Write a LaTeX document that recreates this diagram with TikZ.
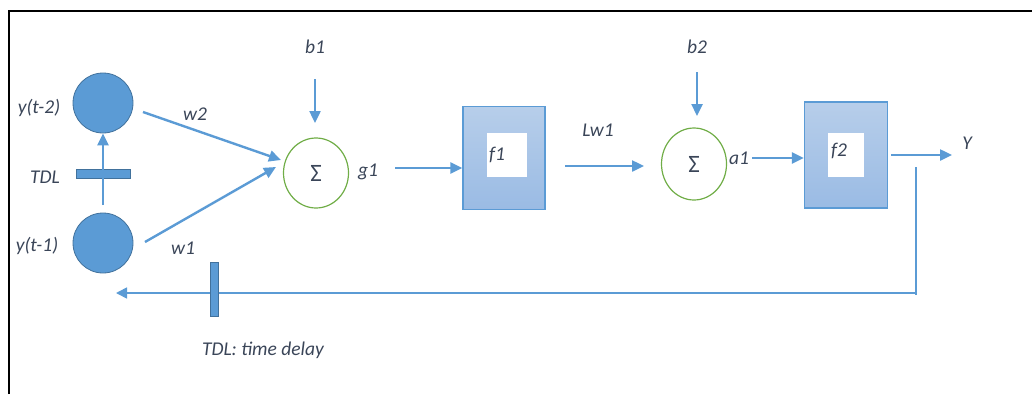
\documentclass[tikz,border=0pt]{standalone}
\usepackage{fontspec}
\setmainfont{Carlito}
\usetikzlibrary{arrows.meta,shapes.geometric}
\definecolor{accent}{HTML}{5B9BD5}
\definecolor{accentdark}{HTML}{41719C}
\definecolor{boxtop}{HTML}{B7CEEA}
\definecolor{boxbot}{HTML}{9ABBE4}
\definecolor{sumgreen}{HTML}{70AD47}
\definecolor{labelcol}{HTML}{3A4558}
\tikzset{
  conn/.style={draw=accent, line width=2.4pt, -{Triangle[length=12pt,width=11pt]}},
  feed/.style={draw=accent, line width=1.6pt},
  lbl/.style={text=labelcol, font=\fontsize{19.5}{22}\selectfont\itshape, inner sep=0pt},
  neuron/.style={circle, fill=accent, draw=accentdark, line width=0.8pt, minimum size=60pt, inner sep=0pt},
  summer/.style={ellipse, draw=sumgreen, line width=1.2pt, minimum width=65pt, minimum height=70pt,
                 inner sep=0pt, font=\fontsize{25}{28}\selectfont, text=labelcol},
  actbox/.style={draw=accent, line width=1.4pt, top color=boxtop, bottom color=boxbot,
                 minimum width=82pt, minimum height=103pt, inner sep=0pt},
  inner/.style={fill=white, minimum width=40pt, minimum height=44pt, inner sep=0pt},
  delay/.style={fill=accent, draw=accentdark, line width=0.6pt, inner sep=0pt},
}
\begin{document}
\begin{tikzpicture}[x=1pt,y=-1pt]
\useasboundingbox (0,0) rectangle (1032,394);
% frame edges
\draw[line width=2pt] (9,394) -- (9,11) -- (1032,11);

% delayed outputs
\node[neuron] (y2) at (103,103) {};
\node[neuron] (y1) at (103,243) {};
\node[lbl] (ly2) at (39,108) {y(t-2)};
\node[lbl] (ly1) at (37,246) {y(t-1)};
\node[delay, minimum width=54pt, minimum height=9pt] (tdl1) at (103,174) {};
\node[lbl] (ltdl) at (45,177) {TDL};
\coordinate (up0) at (103,205);
\draw[conn] (up0) -- (y2.south);

% first summing junction
\node[summer] (s1) at (316,173) {Σ};
\node[lbl] (lb1) at (315,47) {b1};
\coordinate (b1s) at (315,79);
\coordinate (b1e) at (315,123);
\draw[conn] (b1s) -- (b1e);
\coordinate (w2s) at (143,112);
\coordinate (w2e) at (281,160);
\draw[conn] (w2s) -- (w2e);
\coordinate (w1s) at (145,242);
\coordinate (w1e) at (276,167);
\draw[conn] (w1s) -- (w1e);
\node[lbl] (lw2) at (195,114) {w2};
\node[lbl] (lw1) at (183,248) {w1};
\node[lbl] (lg1) at (368,172) {g1};

% first activation
\node[actbox] (f1) at (504,158) {};
\node[inner] (f1i) at (507,155) {};
\node[lbl] (lf1) at (497,155) {f1};
\coordinate (g1s) at (395,168);
\draw[conn] (g1s) -- (f1.west |- g1s);

% second summing junction
\node[summer, minimum height=72pt] (s2) at (694,164) {Σ};
\node[lbl] (lb2) at (697,47) {b2};
\coordinate (b2s) at (697,72);
\coordinate (b2e) at (697,116);
\draw[conn] (b2s) -- (b2e);
\node[lbl] (llw1) at (598,130) {Lw1};
\coordinate (lws) at (565,166);
\coordinate (lwe) at (644,166);
\draw[conn] (lws) -- (lwe);
\node[lbl] (la1) at (739,158) {a1};

% second activation
\node[actbox, minimum width=83pt, minimum height=106pt] (f2) at (846,155) {};
\node[inner, minimum width=36pt] (f2i) at (846,155) {};
\node[lbl] (lf2) at (839,151) {f2};
\coordinate (a1s) at (752,158);
\draw[conn] (a1s) -- (f2.west |- a1s);
\coordinate (ys) at (891,155);
\coordinate (ye) at (952,155);
\draw[conn] (ys) -- (ye);
\node[lbl] (ly) at (967,143) {Y};

% feedback path through the time delay
\coordinate (fb0) at (916,167);
\coordinate (fb1) at (916,295);
\coordinate (fb2) at (116,293);
\draw[feed] (fb0) -- (fb1);
\draw[feed, -{Triangle[length=11pt,width=11pt]}] (916,293) -- (fb2);
\node[delay, minimum width=8pt, minimum height=54pt] (tdl2) at (214,289) {};
\node[lbl] (ltdl2) at (263,350) {TDL: time delay};
\end{tikzpicture}
\end{document}
